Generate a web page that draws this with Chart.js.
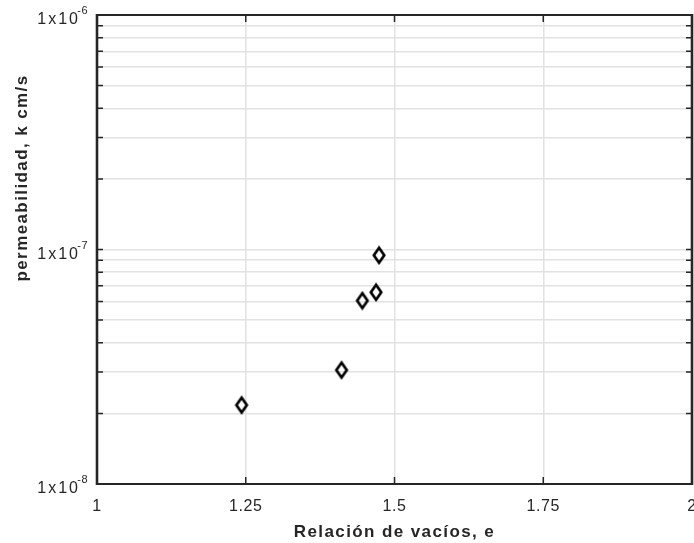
<!DOCTYPE html>
<html lang="es">
<head>
<meta charset="UTF-8">
<title>Permeabilidad vs relación de vacíos</title>
<script src="https://cdn.jsdelivr.net/npm/chart.js"></script>
<style>
  body { margin: 0; background: #fff; }
</style>
</head>
<body>
<canvas id="chart" width="694" height="543"></canvas>
<script>
// datos
const voidRatio = [1.243, 1.411, 1.446, 1.469, 1.474];
const permeability = [2.17e-8, 3.06e-8, 6.05e-8, 6.57e-8, 9.45e-8];
const xTicks = [1, 1.25, 1.5, 1.75, 2];
const xTickLabels = ['1', '1.25', '1.5', '1.75', '2'];
const yDecades = [-8, -7, -6];

const axisColor = '#262626';
const gridColor = '#e2e2e2';
const fontFamily = '"Liberation Sans", Arial, sans-serif';

// marcador tipo rombo (más alto que ancho, como el de MATLAB)
function makeDiamond() {
    const c = document.createElement('canvas');
    c.width = 16;
    c.height = 20;
    const g = c.getContext('2d');
    g.strokeStyle = '#000';
    g.lineWidth = 2.7;
    g.beginPath();
    g.moveTo(8, 2.5);
    g.lineTo(13.2, 10);
    g.lineTo(8, 17.5);
    g.lineTo(2.8, 10);
    g.closePath();
    g.stroke();
    return c;
}

// ticks de la escala log: 1..9 x 10^n
const yTickValues = [];
for (let e = yDecades[0]; e < yDecades[yDecades.length - 1]; e++) {
    for (let m = 1; m < 10; m++) yTickValues.push(m * Math.pow(10, e));
}
yTickValues.push(Math.pow(10, yDecades[yDecades.length - 1]));

const boxPlugin = {
    id: 'box',
    afterDraw(chart) {
        const ctx = chart.ctx;
        const a = chart.chartArea;
        const xs = chart.scales.x;
        const ys = chart.scales.y;
        ctx.save();
        ctx.strokeStyle = axisColor;
        ctx.fillStyle = axisColor;

        // marcas hacia dentro
        ctx.lineWidth = 1.5;
        ctx.beginPath();
        yTickValues.forEach(v => {
            const y = ys.getPixelForValue(v);
            ctx.moveTo(a.left, y); ctx.lineTo(a.left + 6, y);
            ctx.moveTo(a.right, y); ctx.lineTo(a.right - 6, y);
        });
        xTicks.forEach(v => {
            const x = xs.getPixelForValue(v);
            ctx.moveTo(x, a.bottom); ctx.lineTo(x, a.bottom - 7);
            ctx.moveTo(x, a.top); ctx.lineTo(x, a.top + 7);
        });
        ctx.stroke();

        // caja
        ctx.lineWidth = 2;
        ctx.beginPath();
        ctx.moveTo(a.left, a.top); ctx.lineTo(a.right, a.top);
        ctx.moveTo(a.left, a.bottom); ctx.lineTo(a.right, a.bottom);
        ctx.stroke();
        ctx.lineWidth = 2.6;
        ctx.beginPath();
        ctx.moveTo(a.left, a.top - 1); ctx.lineTo(a.left, a.bottom + 1);
        ctx.moveTo(a.right, a.top - 1); ctx.lineTo(a.right, a.bottom + 1);
        ctx.stroke();

        // etiquetas del eje x
        ctx.font = '16px ' + fontFamily;
        ctx.letterSpacing = '0.6px';
        ctx.textAlign = 'center';
        ctx.textBaseline = 'alphabetic';
        xTicks.forEach((v, i) => {
            ctx.fillText(xTickLabels[i], xs.getPixelForValue(v), a.bottom + 27);
        });

        // etiquetas 1x10^n
        yDecades.forEach(e => {
            const y = ys.getPixelForValue(Math.pow(10, e));
            ctx.textAlign = 'right';
            ctx.font = '16px ' + fontFamily;
            ctx.letterSpacing = '2px';
            ctx.fillText('1x10', a.left - 17, y + 9);
            ctx.font = '11px ' + fontFamily;
            ctx.letterSpacing = '0.5px';
            ctx.fillText(String(e), a.left - 9, y - 1);
        });

        // títulos
        ctx.font = 'bold 17px ' + fontFamily;
        ctx.letterSpacing = '1.4px';
        ctx.textAlign = 'center';
        ctx.fillText('Relación de vacíos, e', (a.left + a.right) / 2, 537);
        ctx.translate(27, 178);
        ctx.rotate(-Math.PI / 2);
        ctx.fillText('permeabilidad, k cm/s', 0, 0);
        ctx.restore();
    }
};

new Chart(document.getElementById('chart'), {
    type: 'scatter',
    data: {
        datasets: [{
            data: voidRatio.map((v, i) => ({ x: v, y: permeability[i] })),
            pointStyle: makeDiamond(),
            pointRadius: 8,
            pointHoverRadius: 8
        }]
    },
    options: {
        responsive: false,
        animation: false,
        layout: {
            autoPadding: false,
            padding: { left: 0, right: 2, top: 15, bottom: 0 }
        },
        plugins: {
            legend: { display: false },
            tooltip: { enabled: false }
        },
        scales: {
            x: {
                type: 'linear',
                min: 1,
                max: 2,
                afterBuildTicks: s => { s.ticks = xTicks.map(v => ({ value: v })); },
                afterFit: s => { s.height = 59; },
                border: { display: false },
                grid: { color: gridColor, lineWidth: 1.5, drawTicks: false },
                ticks: { display: false }
            },
            y: {
                type: 'logarithmic',
                min: 1e-8,
                max: 1e-6,
                afterBuildTicks: s => { s.ticks = yTickValues.map(v => ({ value: v })); },
                afterFit: s => { s.width = 97; },
                border: { display: false },
                grid: { color: gridColor, lineWidth: 1.5, drawTicks: false },
                ticks: { display: false }
            }
        }
    },
    plugins: [boxPlugin]
});
</script>
</body>
</html>
